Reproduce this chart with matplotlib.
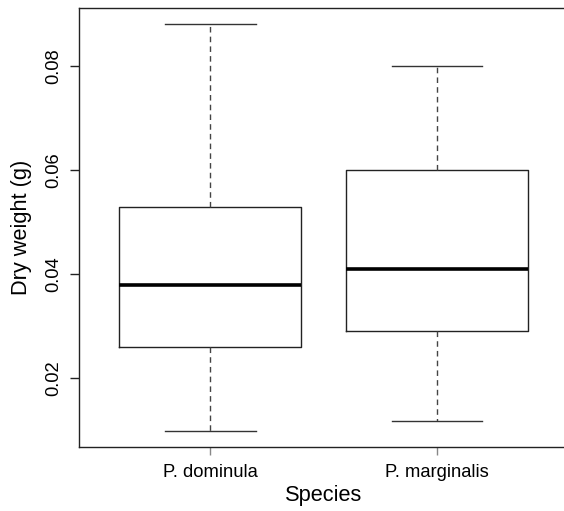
import matplotlib
matplotlib.use("Agg")
import matplotlib.pyplot as plt

plt.rcParams['font.family'] = ['Liberation Sans', 'DejaVu Sans']

species = ["P. dominula", "P. marginalis"]
whislo = [0.0098, 0.0118]
q1 = [0.026, 0.029]
med = [0.038, 0.041]
q3 = [0.053, 0.060]
whishi = [0.0881, 0.080]

stats = []
for i in range(len(species)):
    stats.append(dict(label=species[i], whislo=whislo[i], q1=q1[i], med=med[i],
                      q3=q3[i], whishi=whishi[i], fliers=[]))

fig = plt.figure(figsize=(5.64, 5.11), dpi=100)
ax = fig.add_axes([78.5 / 564, (511 - 447.3) / 511, (568.7 - 78.5) / 564, (447.3 - 8) / 511])

ax.bxp(stats, positions=[1, 2], widths=0.8, showfliers=False,
       boxprops=dict(color='#222222', lw=1.0),
       whiskerprops=dict(color='#444444', lw=1.0, linestyle=(0, (4, 3))),
       capprops=dict(color='#333333', lw=1.0),
       medianprops=dict(color='black', lw=2.6, solid_capstyle='butt'),
       capwidths=0.4)

ax.set_xlim(0.42, 2.58)
ax.set_ylim(0.00667, 0.09123)
ax.set_yticks([0.02, 0.04, 0.06, 0.08])
ax.set_yticklabels(["0.02", "0.04", "0.06", "0.08"], rotation=90, va='center')
ax.set_xticks([1, 2])
ax.set_xticklabels(species)

ax.tick_params(axis='y', length=6.5, width=1, pad=5, labelsize=13.2, color='#222222')
ax.tick_params(axis='x', length=6, width=1, pad=6, labelsize=13.2, color='#888888')
for s in ax.spines.values():
    s.set_linewidth(1.0)
    s.set_color('#222222')

ax.set_xlabel("Species", fontsize=15.7, labelpad=3)
ax.set_ylabel("Dry weight (g)", fontsize=15.7, labelpad=9.5)

fig.savefig("out.png", dpi=100)
